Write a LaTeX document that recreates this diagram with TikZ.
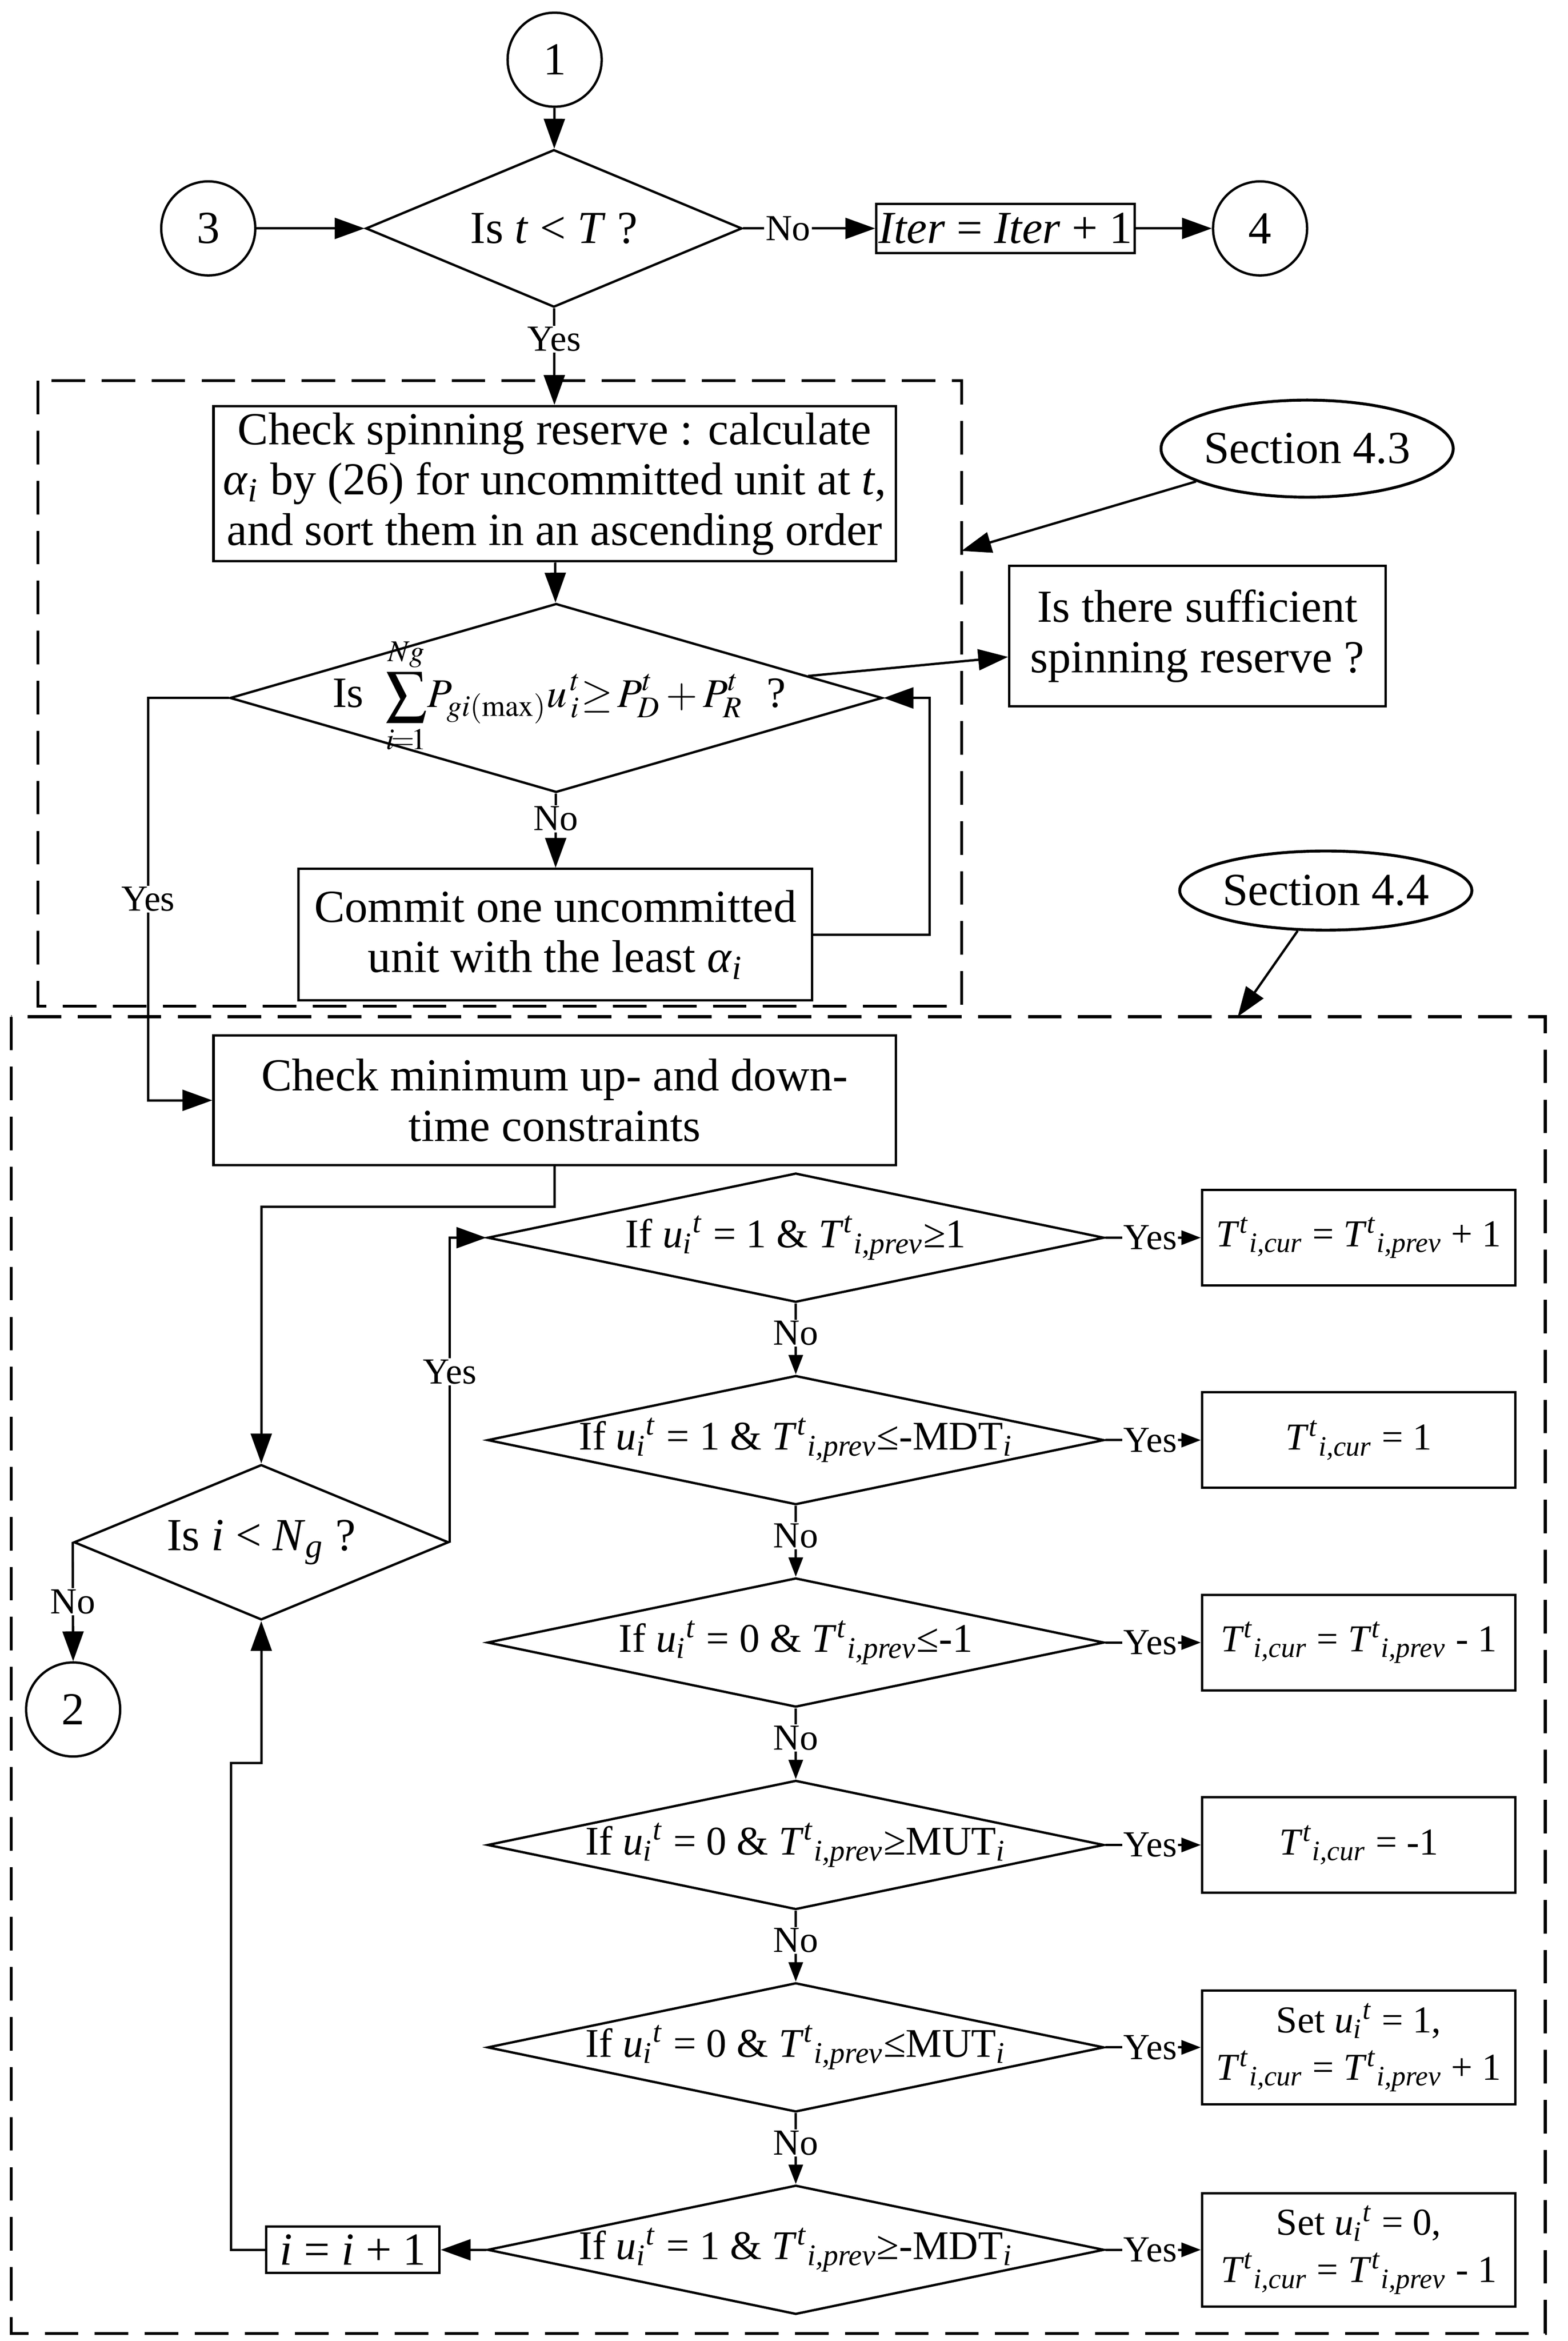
\documentclass[tikz,border=0pt]{standalone}
\usepackage{mathptmx}
\usepackage{fontspec}
\setmainfont{Liberation Serif}
\usetikzlibrary{arrows.meta,calc,positioning,shapes.geometric}
\newcommand{\Tcur}{\textit{T}\textsuperscript{\textit{t}}\textsubscript{\textit{i,cur}}}
\newcommand{\Tprev}{\textit{T}\textsuperscript{\textit{t}}\textsubscript{\textit{i,prev}}}
\newcommand{\uit}{\textit{u}\textsubscript{\textit{i}}\textsuperscript{\textit{t}}}
\tikzset{
mybox/.style={
  rectangle,
  line width=0.9pt,
  inner sep=0pt,
  align=center,
  draw=black,
  }
}
\tikzset{
myresult/.style={
  mybox,
  minimum width=4.2cm,
  minimum height=1.28cm,
  font=\fontsize{14.5}{18}\selectfont,
  }
}
\tikzset{
mydiamond/.style={
  diamond,
  line width=0.9pt,
  inner sep=0pt,
  draw=black,
  }
}
\tikzset{
myrule/.style={
  mydiamond,
  minimum width=8.26cm,
  minimum height=1.73cm,
  }
}
\tikzset{
myruletext/.style={
  font=\fontsize{15.5}{18.5}\selectfont,
  }
}
\tikzset{
myformula/.style={
  font=\fontsize{16.5}{18}\selectfont,
  xshift=0.04cm,
  yshift=0.03cm,
  }
}
\tikzset{
myconn/.style={
  circle,
  line width=0.9pt,
  inner sep=0pt,
  minimum size=1.26cm,
  draw=black,
  }
}
\tikzset{
mysection/.style={
  ellipse,
  line width=1.1pt,
  inner sep=0pt,
  draw=black,
  }
}
\tikzset{
myline/.style={
  line width=0.9pt,
  -{Triangle[length=4mm,width=2.8mm]}
  }
}
\tikzset{
mysmallline/.style={
  line width=0.9pt,
  -{Triangle[length=2.6mm,width=1.9mm]}
  }
}
\tikzset{
myanswer/.style={
  fill=white,
  inner sep=0.5pt,
  font=\fontsize{14}{16}\selectfont,
  }
}
\tikzset{
mygroup/.style={
  line width=1.1pt,
  dash pattern=on 4.5mm off 2.2mm,
  }
}

\begin{document}
\begin{tikzpicture}[font=\fontsize{17.5}{19.2}\selectfont]
    \useasboundingbox (0,0) rectangle (21.0,-31.36);

    % time loop part
    \node[myconn] (c_one) at (7.43,-0.80) {1};
    \node[mydiamond, minimum width=5.04cm, minimum height=2.11cm, label={center:{Is \textit{t} < \textit{T} ?}}] (d_time) at (7.42,-3.06) {};
    \node[myconn] (c_three) at (2.79,-3.06) {3};
    \node[mybox, minimum width=3.46cm, minimum height=0.66cm] (iter) at (13.47,-3.06) {\textit{Iter} = \textit{Iter} + 1};
    \node[myconn] (c_four) at (16.88,-3.06) {4};

    % spinning reserve part
    \draw[mygroup] (0.51,-5.10) rectangle (12.88,-13.48);
    \coordinate (grp_res) at (12.88,-7.38);
    \node[mybox, minimum width=9.14cm, minimum height=2.08cm] (chk_res) at (7.43,-6.48) {Check spinning reserve : calculate\\ \textit{α}\textsubscript{\textit{i}} by (26) for uncommitted unit at \textit{t},\\ and sort them in an ascending order};
    \node[mysection, minimum width=3.38cm, minimum height=1.30cm] (sec_res) at (17.51,-6.01) {Section 4.3};
    \node[mybox, minimum width=5.04cm, minimum height=1.88cm] (suff) at (16.04,-8.52) {Is there sufficient\\ spinning reserve ?};
    \node[mydiamond, minimum width=8.74cm, minimum height=2.53cm, label={[myformula]center:{Is\ \ {\fontsize{15.5}{18}\selectfont$\displaystyle\sum_{i\!=\!1}^{Ng}\!P_{gi(\max)}u^{\,t}_{\,i}{\geq}\,P^{t}_{D}+P^{t}_{R}$}\hspace{0.32cm}?}}] (d_res) at (7.45,-9.35) {};
    \node[mybox, minimum width=6.88cm, minimum height=1.76cm] (commit) at (7.44,-12.52) {Commit one uncommitted\\ unit with the least \textit{α}\textsubscript{\textit{i}}};

    % up and down time part
    \draw[mygroup] (0.15,-13.62) rectangle (20.70,-31.26);
    \coordinate (grp_time) at (16.58,-13.62);
    \node[mysection, minimum width=3.36cm, minimum height=1.06cm] (sec_time) at (17.76,-11.93) {Section 4.4};
    \node[mybox, minimum width=9.14cm, minimum height=1.74cm] (chk_time) at (7.43,-14.74) {Check minimum up- and down-\\ time constraints};
    \node[mydiamond, minimum width=5.02cm, minimum height=2.08cm, label={center:{Is \textit{i} < \textit{N}\textsubscript{\textit{g}} ?}}] (d_unit) at (3.50,-20.66) {};
    \node[myconn] (c_two) at (0.98,-22.90) {2};

    % rule checks
    \node[myrule, label={[myruletext]center:{If \uit{} = 1 \& \Tprev≥1}}] (d_a) at (10.66,-16.58) {};
    \node[myrule, below=0.95cm of d_a, label={[myruletext]center:{If \uit{} = 1 \& \Tprev≤-MDT\textsubscript{\textit{i}}}}] (d_b) {};
    \node[myrule, below=0.95cm of d_b, label={[myruletext]center:{If \uit{} = 0 \& \Tprev≤-1}}] (d_c) {};
    \node[myrule, below=0.95cm of d_c, label={[myruletext]center:{If \uit{} = 0 \& \Tprev≥MUT\textsubscript{\textit{i}}}}] (d_d) {};
    \node[myrule, below=0.95cm of d_d, label={[myruletext]center:{If \uit{} = 0 \& \Tprev≤MUT\textsubscript{\textit{i}}}}] (d_e) {};
    \node[myrule, below=0.95cm of d_e, label={[myruletext]center:{If \uit{} = 1 \& \Tprev≥-MDT\textsubscript{\textit{i}}}}] (d_f) {};

    % rule results
    \node[myresult, right=1.28cm of d_a] (b_a) {\Tcur{} = \Tprev{} + 1};
    \node[myresult, right=1.28cm of d_b] (b_b) {\Tcur{} = 1};
    \node[myresult, right=1.28cm of d_c] (b_c) {\Tcur{} = \Tprev{} - 1};
    \node[myresult, right=1.28cm of d_d] (b_d) {\Tcur{} = -1};
    \node[myresult, minimum height=1.52cm, right=1.28cm of d_e] (b_e) {Set \uit{} = 1,\\ \Tcur{} = \Tprev{} + 1};
    \node[myresult, minimum height=1.52cm, right=1.28cm of d_f] (b_f) {Set \uit{} = 0,\\ \Tcur{} = \Tprev{} - 1};
    \node[mybox, minimum width=2.32cm, minimum height=0.62cm, left=0.61cm of d_f] (i_next) {\textit{i} = \textit{i} + 1};

    % time loop edges
    \draw[myline] (c_one) -- (d_time);
    \draw[myline] (c_three) -- (d_time);
    \draw[myline] (d_time.east) -- node[myanswer, pos=0.34]{No} (iter.west);
    \draw[myline] (iter) -- (c_four);
    \draw[myline] (d_time) -- node[myanswer, pos=0.32]{Yes} (chk_res);

    % spinning reserve edges
    \draw[myline] (chk_res) -- (d_res);
    \draw[myline] ($(d_res.east)!0.23!(d_res.north)$) -- ($(suff.west)+(0,-0.28)$);
    \draw[myline] (d_res) -- node[myanswer, pos=0.34]{No} (commit);
    \draw[myline] (commit.east) -- ++(1.56,0) |- (d_res.east);
    \draw[myline] (d_res.west) -- ++(-1.08,0) |- node[myanswer, pos=0.25]{Yes} (chk_time.west);
    \draw[myline] (sec_res) -- (grp_res);
    \draw[myline] (sec_time) -- (grp_time);

    % unit loop edges
    \draw[myline] (chk_time.south) -- ++(0,-0.54) -| (d_unit.north);
    \draw[myline] (d_unit.east) |- node[myanswer, pos=0.28]{Yes} (d_a.west);
    \draw[myline] (d_unit.west) -- node[myanswer]{No} (c_two.north);
    \draw[myline] (d_f) -- (i_next);
    \draw[myline] (i_next.west) -- ++(-0.46,0) |- ($(d_unit.south)+(0,-1.9)$) -- (d_unit.south);

    % rule edges
    \draw[mysmallline] (d_a) -- node[myanswer, pos=0.42]{No} (d_b);
    \draw[mysmallline] (d_b) -- node[myanswer, pos=0.42]{No} (d_c);
    \draw[mysmallline] (d_c) -- node[myanswer, pos=0.42]{No} (d_d);
    \draw[mysmallline] (d_d) -- node[myanswer, pos=0.42]{No} (d_e);
    \draw[mysmallline] (d_e) -- node[myanswer, pos=0.42]{No} (d_f);
    \draw[mysmallline] (d_a) -- node[myanswer, pos=0.47]{Yes} (b_a);
    \draw[mysmallline] (d_b) -- node[myanswer, pos=0.47]{Yes} (b_b);
    \draw[mysmallline] (d_c) -- node[myanswer, pos=0.47]{Yes} (b_c);
    \draw[mysmallline] (d_d) -- node[myanswer, pos=0.47]{Yes} (b_d);
    \draw[mysmallline] (d_e) -- node[myanswer, pos=0.47]{Yes} (b_e);
    \draw[mysmallline] (d_f) -- node[myanswer, pos=0.47]{Yes} (b_f);
\end{tikzpicture}
\end{document}
